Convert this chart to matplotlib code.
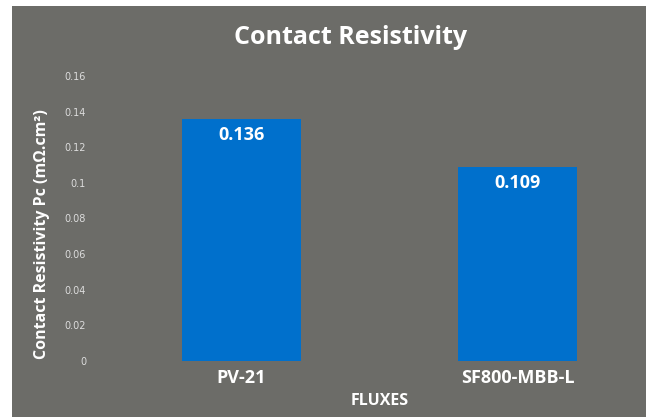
import matplotlib.pyplot as plt
from matplotlib.patches import Rectangle

# data
fluxes = ["PV-21", "SF800-MBB-L"]
resistivity = [0.136, 0.109]
yticks = [0, 0.02, 0.04, 0.06, 0.08, 0.1, 0.12, 0.14, 0.16]
ytick_labels = ["0", "0.02", "0.04", "0.06", "0.08", "0.1", "0.12", "0.14", "0.16"]

plt.rcParams['font.family'] = ['Open Sans', 'DejaVu Sans']
W, H = 649, 417
fig = plt.figure(figsize=(W/100, H/100), dpi=100)
fig.patch.set_facecolor("white")
grey = "#6c6c68"
fig.patches.append(Rectangle((12/W, 0), (646-12)/W, (H-6)/H, transform=fig.transFigure,
                             facecolor=grey, edgecolor="none", zorder=-1))

# axes placed in pixel coords: left 100, right 645, bottom y=361, top y=76
ax = fig.add_axes([100/W, (H-361)/H, (645-100)/W, (361-76)/H])
ax.set_zorder(2)
ax.set_facecolor("none")
x = range(len(fluxes))
bars = ax.bar(x, resistivity, width=0.43, color="#0070cc")
ax.set_xlim(-0.513, 1.462)
ax.set_ylim(0, 0.16)
ax.set_yticks(yticks)
ax.set_yticklabels(ytick_labels, fontsize=7, color="#dcdcdc", family="DejaVu Sans")
ax.tick_params(axis="y", length=0, pad=10)
ax.set_xticks(list(x))
ax.set_xticklabels(fluxes, fontsize=13, fontweight="bold", color="white")
ax.tick_params(axis="x", length=0, pad=6)
for s in ax.spines.values():
    s.set_visible(False)

for i, v in enumerate(resistivity):
    ax.text(i, v - 0.004, str(v), ha="center", va="top", fontsize=13,
            fontweight="bold", color="white")

fig.text(351/W, 1 - 37/H, "Contact Resistivity", ha="center", va="center",
         fontsize=18, fontweight="bold", color="white", zorder=3)
fig.text(380/W, 1 - 401/H, "FLUXES", ha="center", va="center",
         fontsize=11.5, fontweight="bold", color="white", zorder=3)
fig.text(42/W, 1 - 234/H, "Contact Resistivity Pc (m\u03a9.cm\u00b2)", ha="center",
         va="center", rotation=90, fontsize=11.5, fontweight="bold", color="white", zorder=3)

fig.savefig("out.png", dpi=100)
